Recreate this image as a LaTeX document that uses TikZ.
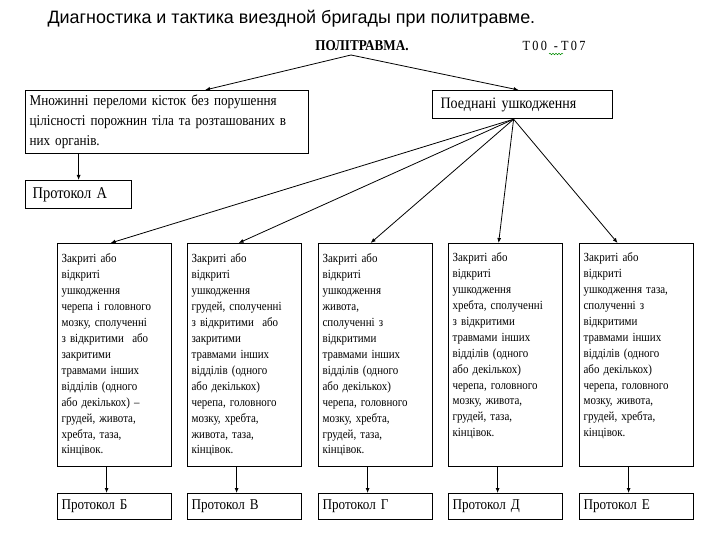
\documentclass[tikz,border=0pt]{standalone}
\usepackage{fontspec}
\setmainfont{Liberation Serif}[FakeStretch=0.88]
\newfontfamily\headfont{Liberation Sans}
\usetikzlibrary{arrows.meta,calc,positioning,decorations.pathmorphing}

\tikzset{
  box/.style={draw, line width=1.2bp, anchor=north west, inner ysep=0pt, inner xsep=4bp, align=left},
  tallbox/.style={box, minimum width=114bp, minimum height=223bp, text width=106bp,
    font=\fontsize{12.5}{16}\selectfont},
  protbox/.style={box, minimum width=114bp, minimum height=26bp, text width=106bp,
    font=\fontsize{15}{16}\selectfont},
  link/.style={->, line width=0.8bp},
}

\begin{document}
\begin{tikzpicture}[x=1bp,y=-1bp,>={Latex[length=5bp,width=4bp]}]
  \useasboundingbox (0,0) rectangle (720,540);
  % heading
  \node[anchor=west, font=\headfont\fontsize{18}{20}\selectfont] (head) at (44,19)
    {Диагностика и тактика виездной бригады при политравме.};
  \node[font=\bfseries\fontsize{15}{16}\selectfont] (poly) at (362,46) {ПОЛІТРАВМА.};
  \node[anchor=west, font=\fontsize{14}{15}\selectfont] (code) at (519,46)
    {Т\,0\,0\hspace{7bp}-\hspace{3bp}Т\,0\,7};
  \draw[green!55!black, line width=0.5bp, decorate,
    decoration={snake, amplitude=0.8bp, segment length=3bp}] (549,54) -- (563,54);
  \coordinate (apex) at (351,55);

  % first level
  \node[box, minimum width=283bp, minimum height=63bp, text width=275bp,
    font=\fontsize{15}{20}\selectfont] (multi) at (25,90)
    {Множинні переломи кісток без порушення\\ цілісності порожнин тіла та розташованих в\\ них органів.};
  \node[box, minimum width=106bp, minimum height=28bp, text width=92bp, inner xsep=7bp,
    font=\fontsize{16.5}{18}\selectfont] (protA) at (25,180) {Протокол А};
  \node[box, minimum width=180bp, minimum height=28bp, text width=164bp, inner xsep=8bp,
    font=\fontsize{16}{18}\selectfont] (comb) at (432,90) {Поеднані ушкодження};
  \coordinate (fan) at ([xshift=-9bp]comb.south);

  \draw[link] (apex) -- ([xshift=38bp]multi.north);
  \draw[link] (apex) -- ([xshift=-4bp]comb.north);
  \draw[link] (multi.south -| protA.north) -- (protA.north);

  % combined injuries
  \node[tallbox] (b1) at (57,243) {Закриті або\\ відкриті\\ ушкодження\\ черепа і головного\\ мозку, сполученні\\ з відкритими\ \ або\\ закритими\\ травмами інших\\ відділів (одного\\ або декількох) --\\ грудей, живота,\\ хребта, таза,\\ кінцівок.};
  \node[tallbox] (b2) at (187,243) {Закриті або\\ відкриті\\ ушкодження\\ грудей, сполученні\\ з відкритими\ \ або\\ закритими\\ травмами інших\\ відділів (одного\\ або декількох)\\ черепа, головного\\ мозку, хребта,\\ живота, таза,\\ кінцівок.};
  \node[tallbox] (b3) at (318,243) {Закриті або\\ відкриті\\ ушкодження\\ живота,\\ сполученні з\\ відкритими\\ травмами інших\\ відділів (одного\\ або декількох)\\ черепа, головного\\ мозку, хребта,\\ грудей, таза,\\ кінцівок.};
  \node[tallbox] (b4) at (448,243) {Закриті або\\ відкриті\\ ушкодження\\ хребта, сполученні\\ з відкритими\\ травмами інших\\ відділів (одного\\ або декількох)\\ черепа, головного\\ мозку, живота,\\ грудей, таза,\\ кінцівок.\\ \strut};
  \node[tallbox] (b5) at (579,243) {Закриті або\\ відкриті\\ ушкодження таза,\\ сполученні з\\ відкритими\\ травмами інших\\ відділів (одного\\ або декількох)\\ черепа, головного\\ мозку, живота,\\ грудей, хребта,\\ кінцівок.\\ \strut};

  \foreach \b/\s in {b1/-4, b2/-6, b3/-5, b4/-7, b5/-19}
    \draw[link] (fan) -- ([xshift=\s bp]\b.north);

  % protocols
  \node[protbox] (pb) at (57,493) {Протокол Б};
  \node[protbox] (pv) at (187,493) {Протокол В};
  \node[protbox] (pg) at (318,493) {Протокол Г};
  \node[protbox] (pd) at (448,493) {Протокол Д};
  \node[protbox] (pe) at (579,493) {Протокол Е};

  \draw[link, line width=1.6bp] ([xshift=-8bp]b1.south) -- ([xshift=-8bp]pb.north);
  \foreach \b/\p in {b2/pv, b3/pg, b4/pd, b5/pe}
    \draw[link] ([xshift=-8bp]\b.south) -- ([xshift=-8bp]\p.north);
\end{tikzpicture}
\end{document}
